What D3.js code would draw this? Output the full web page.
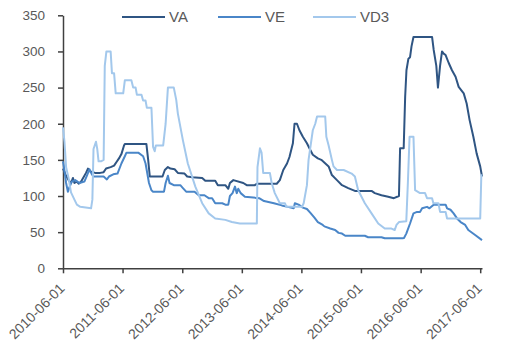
<!DOCTYPE html>
<html>
<head>
<meta charset="utf-8">
<script src="https://cdn.jsdelivr.net/npm/d3@7"></script>
<style>
  html, body { margin: 0; padding: 0; background: #ffffff; }
  svg { display: block; }
  text { font-family: "Liberation Sans", Arial, sans-serif; fill: #595959; }
</style>
</head>
<body>
<svg id="chart" width="520" height="357"></svg>
<script>
// ---- data ----
const seriesNames = ["VA", "VE", "VD3"];
const yTickValues = [0, 50, 100, 150, 200, 250, 300, 350];
const xTickLabels = ["2010-06-01", "2011-06-01", "2012-06-01", "2013-06-01", "2014-06-01", "2015-06-01", "2016-06-01", "2017-06-01"];

const vaDates = ["2010-06-01","2010-06-20","2010-07-05","2010-07-20","2010-08-01","2010-08-10","2010-08-25","2010-09-05","2010-09-20","2010-10-05","2010-10-20","2010-11-01","2010-11-15","2010-12-15","2011-01-15","2011-02-05","2011-02-20","2011-03-20","2011-04-10","2011-04-25","2011-05-10","2011-05-25","2011-06-10","2011-06-15","2011-10-25","2011-11-05","2011-11-15","2012-02-01","2012-02-15","2012-03-05","2012-03-20","2012-04-15","2012-05-05","2012-06-15","2012-07-01","2012-08-01","2012-10-01","2012-10-20","2012-12-20","2013-01-05","2013-02-20","2013-03-10","2013-03-20","2013-04-10","2013-06-10","2013-07-01","2013-08-20","2013-09-01","2014-01-01","2014-01-20","2014-02-10","2014-03-05","2014-03-20","2014-04-10","2014-04-20","2014-05-05","2014-05-20","2014-06-10","2014-07-05","2014-07-25","2014-08-10","2014-09-10","2014-10-01","2014-11-15","2014-12-05","2015-01-05","2015-02-05","2015-03-15","2015-04-25","2015-08-05","2015-08-25","2015-10-05","2015-11-15","2015-12-20","2016-01-20","2016-01-27","2016-02-18","2016-02-27","2016-03-06","2016-03-18","2016-03-28","2016-04-06","2016-04-18","2016-08-10","2016-08-20","2016-09-05","2016-09-15","2016-09-28","2016-10-10","2016-10-20","2016-11-01","2016-11-20","2016-12-10","2017-01-01","2017-01-20","2017-02-20","2017-03-10","2017-03-28","2017-04-20","2017-05-10","2017-06-01","2017-06-12"];
const vaValues = [138,128,122,118,125,118,120,117,120,126,132,138,134,132,132,133,138,140,142,147,152,158,170,172,172,150,127,127,136,140,138,137,132,131,127,126,125,121,121,115,115,110,118,122,118,115,115,117,117,122,136,145,154,173,200,200,191,182,173,164,157,152,150,141,129,122,115,111,107,107,104,101,99,97,100,166,166,237,274,290,292,307,320,320,302,280,250,280,300,297,295,284,274,265,251,242,228,205,182,159,141,127];

const veDates = ["2010-06-01","2010-06-10","2010-06-20","2010-07-01","2010-07-10","2010-07-25","2010-08-15","2010-09-10","2010-10-10","2010-10-25","2010-11-10","2010-11-25","2010-12-05","2011-02-05","2011-02-25","2011-03-10","2011-04-05","2011-05-01","2011-05-25","2011-06-15","2011-06-25","2011-09-05","2011-10-05","2011-10-20","2011-11-10","2011-11-25","2011-12-05","2012-02-10","2012-02-20","2012-03-05","2012-03-15","2012-04-10","2012-05-20","2012-06-05","2012-06-25","2012-08-15","2012-09-10","2012-10-15","2012-11-10","2012-12-01","2012-12-20","2013-02-01","2013-02-20","2013-03-10","2013-03-20","2013-04-05","2013-04-20","2013-05-01","2013-05-10","2013-05-25","2013-06-20","2013-09-15","2013-10-15","2013-12-15","2014-02-01","2014-03-10","2014-04-15","2014-04-22","2014-05-15","2014-06-10","2014-07-05","2014-07-25","2014-08-20","2014-09-10","2014-10-10","2014-10-20","2014-11-25","2014-12-25","2015-01-15","2015-02-05","2015-02-25","2015-06-25","2015-07-15","2015-10-05","2015-10-25","2016-02-10","2016-02-20","2016-03-05","2016-03-28","2016-04-18","2016-05-10","2016-05-28","2016-06-10","2016-07-10","2016-07-25","2016-08-20","2016-11-01","2016-11-10","2016-12-01","2016-12-20","2017-01-10","2017-02-01","2017-03-01","2017-03-20","2017-05-01","2017-06-12"];
const veValues = [148,135,118,106,112,120,122,118,120,128,137,130,127,127,123,127,130,131,145,155,160,160,155,145,118,108,106,106,118,128,118,115,115,111,106,106,101,101,97,97,90,90,88,88,100,104,113,104,110,104,99,97,93,90,87,85,83,90,88,84,82,77,70,64,60,58,55,53,49,48,45,45,43,43,41.5,41.5,42,48,62,76,78,78,83,85,83,88,88,83,81,76,69,64,60,53,46,39];

const vd3Dates = ["2010-06-01","2010-06-10","2010-06-20","2010-07-05","2010-07-20","2010-08-10","2010-08-25","2010-09-15","2010-11-20","2010-11-28","2010-12-05","2010-12-20","2010-12-28","2011-01-05","2011-01-20","2011-02-05","2011-02-12","2011-02-22","2011-03-20","2011-03-28","2011-04-10","2011-04-20","2011-06-05","2011-06-15","2011-07-25","2011-08-05","2011-08-20","2011-08-28","2011-09-25","2011-10-05","2011-10-20","2011-10-28","2011-11-25","2011-12-05","2011-12-15","2011-12-22","2012-02-05","2012-02-20","2012-03-05","2012-04-10","2012-04-25","2012-05-05","2012-06-05","2012-07-05","2012-08-20","2012-10-01","2012-11-10","2012-12-20","2013-02-20","2013-04-01","2013-05-20","2013-09-01","2013-09-05","2013-09-20","2013-09-30","2013-10-10","2013-11-20","2013-12-01","2013-12-20","2014-01-20","2014-02-20","2014-03-01","2014-06-05","2014-06-15","2014-07-05","2014-07-15","2014-08-10","2014-08-25","2014-09-05","2014-10-25","2014-11-01","2014-11-15","2014-12-05","2014-12-15","2015-01-05","2015-02-15","2015-04-05","2015-04-25","2015-05-15","2015-06-25","2015-08-05","2015-09-15","2015-10-25","2015-12-05","2015-12-25","2016-01-05","2016-01-20","2016-03-05","2016-03-15","2016-03-25","2016-04-18","2016-04-28","2016-05-28","2016-06-28","2016-07-10","2016-08-10","2016-08-18","2016-09-18","2016-09-28","2016-11-01","2016-11-10","2017-06-01","2017-06-08"];
const vd3Values = [195,175,140,125,105,95,88,85,83,95,165,175,165,148,148,150,280,300,300,270,270,242,242,260,260,250,250,240,240,232,232,222,222,168,162,170,170,200,250,250,233,214,177,145,113,90,76,69,67,64,62,62,140,166,160,132,132,118,104,90,90,85,85,90,115,150,191,200,210,210,182,170,150,141,136,136,131,127,108,90,76,62,55,55,53,60,64,65,120,182,182,108,104,104,97,97,90,90,78,78,69,69,130];

const colors = ["#2F5583", "#4A86C8", "#A3C8EC"];

// ---- chart ----
const parse = d3.timeParse("%Y-%m-%d");
const svg = d3.select("#chart");

const x = d3.scaleTime()
  .domain([parse("2010-06-01"), parse("2017-06-12")])
  .range([63, 482]);
const y = d3.scaleLinear().domain([0, 350]).range([268.3, 15.3]);

const series = [
  { name: seriesNames[0], color: colors[0], pts: vaDates.map((d, i) => [parse(d), vaValues[i]]) },
  { name: seriesNames[1], color: colors[1], pts: veDates.map((d, i) => [parse(d), veValues[i]]) },
  { name: seriesNames[2], color: colors[2], pts: vd3Dates.map((d, i) => [parse(d), vd3Values[i]]) }
];

const line = d3.line().x(d => x(d[0])).y(d => y(d[1])).curve(d3.curveLinear);

// y axis
const yAxis = svg.append("g").attr("transform", "translate(63,0)")
  .call(d3.axisLeft(y).tickValues(yTickValues).tickSize(5).tickSizeOuter(0).tickPadding(13));
yAxis.select(".domain").attr("stroke", "#404040").attr("stroke-width", 1.5);
yAxis.selectAll(".tick line").attr("stroke", "#404040").attr("stroke-width", 1.5);
yAxis.selectAll(".tick text").attr("font-size", 13.5).attr("fill", "#595959")
  .style("font-family", "'Liberation Sans', Arial, sans-serif");

// x axis
const xAxis = svg.append("g").attr("transform", "translate(0,268.3)")
  .call(d3.axisBottom(x).tickValues(xTickLabels.map(parse)).tickSize(5).tickSizeOuter(0)
    .tickFormat(d3.timeFormat("%Y-%m-%d")));
xAxis.select(".domain").attr("stroke", "#404040").attr("stroke-width", 1.5);
xAxis.selectAll(".tick line").attr("stroke", "#404040").attr("stroke-width", 1.5);
xAxis.selectAll(".tick text")
  .attr("font-size", 14).attr("fill", "#595959")
  .style("font-family", "'Liberation Sans', Arial, sans-serif")
  .attr("text-anchor", "end")
  .attr("x", 0).attr("y", 0).attr("dy", 0)
  .attr("transform", "translate(2,21) rotate(-45)");

// lines
svg.append("g").selectAll("path.series")
  .data(series)
  .join("path")
  .attr("class", "series")
  .attr("fill", "none")
  .attr("stroke", d => d.color)
  .attr("stroke-width", 2)
  .attr("stroke-linejoin", "round")
  .attr("d", d => line(d.pts));

// legend
const legendX = [122, 218, 313];
const legend = svg.append("g").selectAll("g").data(series).join("g")
  .attr("transform", (d, i) => `translate(${legendX[i]},17)`);
legend.append("line").attr("x1", 0).attr("x2", 43).attr("y1", 0).attr("y2", 0)
  .attr("stroke", d => d.color).attr("stroke-width", 2);
legend.append("text").attr("x", 47).attr("y", 0).attr("dy", "0.36em")
  .attr("font-size", 15).attr("fill", "#595959").text(d => d.name);
</script>
</body>
</html>
